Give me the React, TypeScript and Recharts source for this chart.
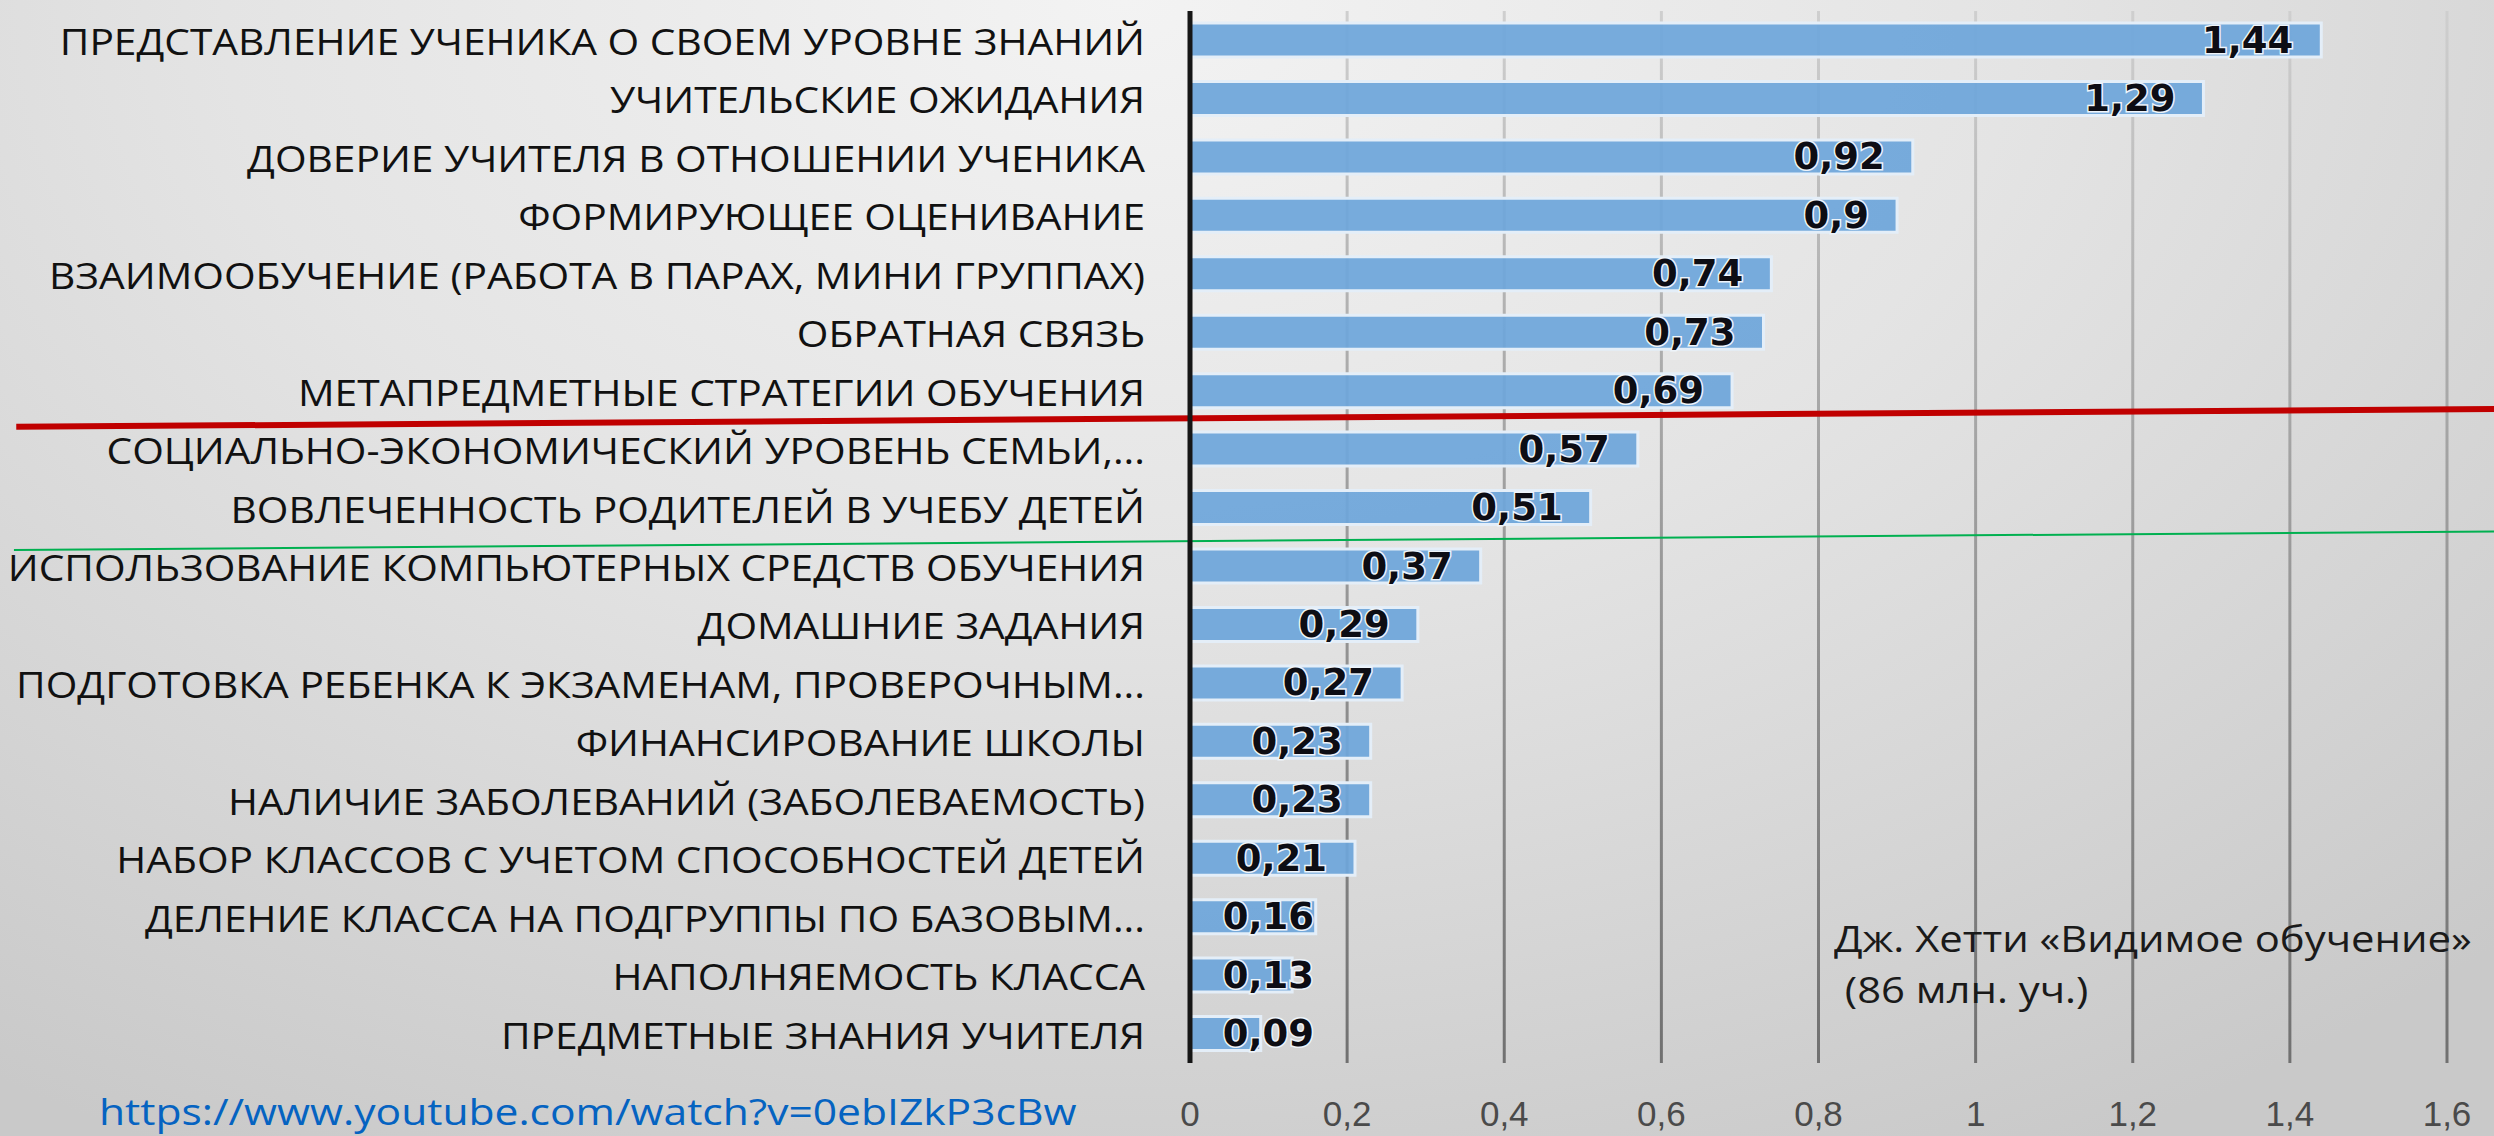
import { BarChart, Bar, XAxis, YAxis, CartesianGrid, ReferenceLine, LabelList } from 'recharts';

const categories = [
  'ПРЕДСТАВЛЕНИЕ УЧЕНИКА О СВОЕМ УРОВНЕ ЗНАНИЙ',
  'УЧИТЕЛЬСКИЕ ОЖИДАНИЯ',
  'ДОВЕРИЕ УЧИТЕЛЯ В ОТНОШЕНИИ УЧЕНИКА',
  'ФОРМИРУЮЩЕЕ ОЦЕНИВАНИЕ',
  'ВЗАИМООБУЧЕНИЕ (РАБОТА В ПАРАХ, МИНИ ГРУППАХ)',
  'ОБРАТНАЯ СВЯЗЬ',
  'МЕТАПРЕДМЕТНЫЕ СТРАТЕГИИ ОБУЧЕНИЯ',
  'СОЦИАЛЬНО-ЭКОНОМИЧЕСКИЙ УРОВЕНЬ СЕМЬИ,...',
  'ВОВЛЕЧЕННОСТЬ РОДИТЕЛЕЙ В УЧЕБУ ДЕТЕЙ',
  'ИСПОЛЬЗОВАНИЕ КОМПЬЮТЕРНЫХ СРЕДСТВ ОБУЧЕНИЯ',
  'ДОМАШНИЕ ЗАДАНИЯ',
  'ПОДГОТОВКА РЕБЕНКА К ЭКЗАМЕНАМ, ПРОВЕРОЧНЫМ...',
  'ФИНАНСИРОВАНИЕ ШКОЛЫ',
  'НАЛИЧИЕ ЗАБОЛЕВАНИЙ (ЗАБОЛЕВАЕМОСТЬ)',
  'НАБОР КЛАССОВ С УЧЕТОМ СПОСОБНОСТЕЙ ДЕТЕЙ',
  'ДЕЛЕНИЕ КЛАССА НА ПОДГРУППЫ ПО БАЗОВЫМ...',
  'НАПОЛНЯЕМОСТЬ КЛАССА',
  'ПРЕДМЕТНЫЕ ЗНАНИЯ УЧИТЕЛЯ',
];

const effects = [1.44, 1.29, 0.92, 0.9, 0.74, 0.73, 0.69, 0.57, 0.51, 0.37, 0.29, 0.27, 0.23, 0.23, 0.21, 0.16, 0.13, 0.09];

const xTicks = [0, 0.2, 0.4, 0.6, 0.8, 1, 1.2, 1.4, 1.6];

const data = categories.map((name, i) => ({ name, value: effects[i] }));

// hand-drawn dividers on the slide (x in effect units, y on the hidden row axis)
const redLine = [{ x: -1.494, y: 6.72 }, { x: 1.66, y: 6.43 }];
const greenLine = [{ x: -1.497, y: 8.71 }, { x: 1.66, y: 8.41 }];

const fmt = (v: number) => String(v).replace('.', ',');

const CategoryTick = ({ x, y, payload }: any) => (
  <g transform={`translate(${x},${y})`}>
    <text
      x={0}
      y={0}
      transform="scale(1.1,1)"
      textAnchor="end"
      dominantBaseline="central"
      fontFamily="'Open Sans', sans-serif"
      fontSize={37}
      fill="#111"
    >
      {payload.value}
    </text>
  </g>
);

const ValueLabel = ({ x, y, width, height, value }: any) => {
  const end = Math.max(x + width - 28, x + 124);
  return (
    <text
      x={end}
      y={y + height / 2}
      textAnchor="end"
      dominantBaseline="central"
      fontFamily="'DejaVu Sans', sans-serif"
      fontWeight="bold"
      fontSize={37}
      fill="#0d0d14"
      stroke="#eef4fa"
      strokeWidth={3}
      paintOrder="stroke"
    >
      {fmt(value)}
    </text>
  );
};

export default function App() {
  return (
    <div
      style={{
        position: 'absolute',
        left: 0,
        top: 0,
        width: 2494,
        height: 1136,
        background: 'radial-gradient(ellipse 80% 115% at 45% 0%, #f3f3f3 0%, #e4e4e4 45%, #c9c9c9 100%)',
        overflow: 'hidden',
      }}
    >
      <BarChart
        width={2494}
        height={1136}
        data={data}
        layout="vertical"
        margin={{ top: 11, right: 47, left: 0, bottom: 0 }}
        barCategoryGap={0}
      >
        <defs>
          <linearGradient id="gridFade" x1="0" y1="0" x2="0" y2="1070" gradientUnits="userSpaceOnUse">
            <stop offset="0%" stopColor="#d0d0d0" />
            <stop offset="45%" stopColor="#a0a0a0" />
            <stop offset="100%" stopColor="#707070" />
          </linearGradient>
        </defs>
        <CartesianGrid horizontal={false} stroke="url(#gridFade)" strokeWidth={3} />
        <XAxis
          type="number"
          domain={[0, 1.6]}
          ticks={xTicks}
          tickFormatter={fmt}
          axisLine={false}
          tickLine={false}
          tickSize={0}
          tickMargin={38}
          height={73}
          tick={{ fontSize: 35, fill: '#4a4a4a', fontFamily: "'Liberation Sans', sans-serif" }}
        />
        <YAxis
          type="category"
          dataKey="name"
          width={1190}
          interval={0}
          tickSize={0}
          tickMargin={45}
          tickLine={false}
          axisLine={{ stroke: '#161616', strokeWidth: 5 }}
          tick={<CategoryTick />}
        />
        <YAxis yAxisId="lines" type="number" domain={[0, 18]} hide />
        <Bar
          dataKey="value"
          fill="#6ea6da"
          fillOpacity={0.93}
          stroke="#e4eef8"
          strokeWidth={3}
          barSize={34}
          isAnimationActive={false}
        >
          <LabelList dataKey="value" content={<ValueLabel />} />
        </Bar>
        <ReferenceLine yAxisId="lines" segment={redLine} stroke="#c00000" strokeWidth={6} ifOverflow="visible" />
        <ReferenceLine yAxisId="lines" segment={greenLine} stroke="#00b050" strokeWidth={2} ifOverflow="visible" />
      </BarChart>
      <div
        style={{
          position: 'absolute',
          left: 1834,
          top: 912,
          fontFamily: "'Open Sans', sans-serif",
          fontSize: 37,
          lineHeight: '51px',
          color: '#1a1a1a',
          whiteSpace: 'pre',
          transform: 'scaleX(1.13)',
          transformOrigin: 'left top',
        }}
      >
        {'Дж. Хетти «Видимое обучение»\n (86 млн. уч.)'}
      </div>
      <div
        style={{
          position: 'absolute',
          left: 99,
          top: 1086,
          fontFamily: "'Open Sans', sans-serif",
          fontSize: 37,
          lineHeight: '50px',
          color: '#0563c1',
          whiteSpace: 'pre',
          transform: 'scaleX(1.15)',
          transformOrigin: 'left top',
        }}
      >
        https://www.youtube.com/watch?v=0ebIZkP3cBw
      </div>
    </div>
  );
}
